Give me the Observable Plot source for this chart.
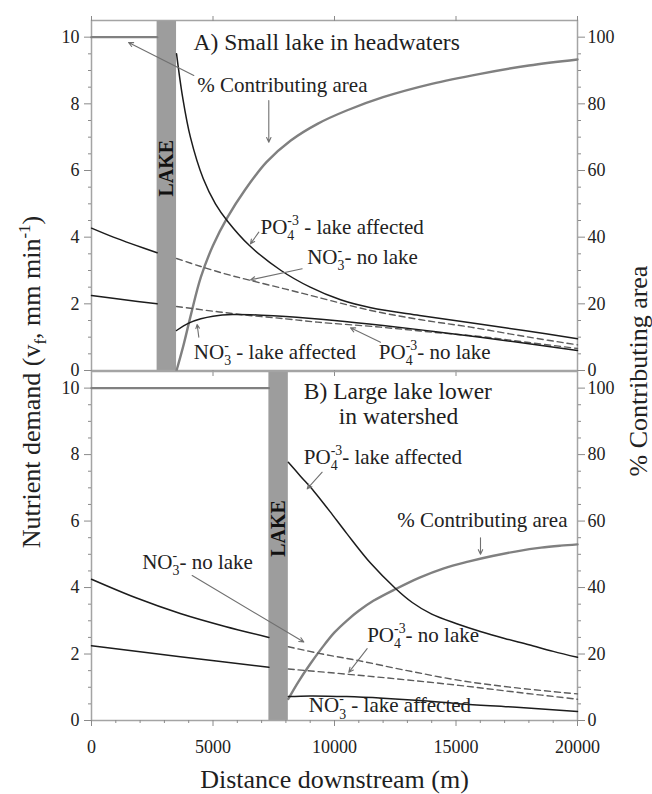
<!DOCTYPE html>
<html>
<head>
<meta charset="utf-8">
<script src="https://cdn.jsdelivr.net/npm/d3@7"></script>
<script src="https://cdn.jsdelivr.net/npm/@observablehq/plot@0.6"></script>
<style>
  body { margin: 0; background: #fff; }
  #wrap { position: relative; width: 652px; height: 794px; font-family: "Liberation Serif", "Times New Roman", serif; color: #222; overflow: hidden; }
  #wrap svg { position: absolute; left: 0; }
  .lab { position: absolute; white-space: nowrap; font-size: 26px; line-height: 1; transform: translate(-50%, -50%) rotate(-90deg); }
  .lab sub, .lab sup { font-size: 65%; line-height: 0; }
</style>
</head>
<body>
<div id="wrap">
  <div class="lab" style="left:32px; top:382px;">Nutrient demand (v<sub>f</sub>, mm min<sup>-1</sup>)</div>
  <div class="lab" style="left:639px; top:371px;">% Contributing area</div>
</div>
<script>
// ---------------- Ticks ----------------
const xMajor = [0, 5000, 10000, 15000, 20000];
const xTickLabels = ["0", "5000", "10000", "15000", "20000"];
const xMinor = [1000, 2000, 3000, 4000, 6000, 7000, 8000, 9000, 11000, 12000, 13000, 14000, 16000, 17000, 18000, 19000];
const yMajor = [0, 2, 4, 6, 8, 10];
const yTickLabels = ["0", "2", "4", "6", "8", "10"];
const pctTickLabels = ["0", "20", "40", "60", "80", "100"];
const yMinor = [0.5, 1, 1.5, 2.5, 3, 3.5, 4.5, 5, 5.5, 6.5, 7, 7.5, 8.5, 9, 9.5];
const pctPerUnit = 10;

// ---------------- Panel A: small lake in headwaters ----------------
const lakeA = [2700, 3500];
const A_no3NoLakeUp_x = [0, 900, 1800, 2700];
const A_no3NoLakeUp_y = [4.27, 4.0, 3.76, 3.53];
const A_po4NoLakeUp_x = [0, 1350, 2700];
const A_po4NoLakeUp_y = [2.25, 2.12, 2.0];
const A_no3NoLake_x = [3500, 4500, 5500, 6500, 8000, 9300, 11500, 13500, 15600, 18000, 20000];
const A_no3NoLake_y = [3.36, 3.12, 2.9, 2.71, 2.44, 2.2, 1.8, 1.53, 1.3, 1.0, 0.77];
const A_po4NoLake_x = [3500, 5000, 6500, 8000, 9300, 11900, 14000, 16000, 18000, 20000];
const A_po4NoLake_y = [1.92, 1.78, 1.65, 1.55, 1.45, 1.3, 1.15, 1.02, 0.84, 0.66];
const A_no3Lake_x = [3500, 4000, 4500, 5000, 5800, 7000, 8000, 10000, 12000, 14000, 16000, 18000, 20000];
const A_no3Lake_y = [1.2, 1.42, 1.55, 1.63, 1.68, 1.66, 1.62, 1.5, 1.35, 1.18, 1.0, 0.8, 0.6];
const A_po4Lake_x = [3500, 3750, 4070, 4600, 5100, 5600, 6500, 7800, 9000, 10250, 11500, 13500, 15600, 17800, 20000];
const A_po4Lake_y = [9.5, 8.2, 7.0, 5.75, 5.0, 4.48, 3.75, 3.0, 2.5, 2.12, 1.88, 1.65, 1.43, 1.2, 0.95];
const A_areaUp_x = [0, 2700];
const A_areaUp_pct = [100, 100];
const A_area_x = [3500, 3800, 4100, 4500, 5000, 5600, 6300, 7200, 8200, 9300, 10500, 12000, 14000, 16000, 18000, 20000];
const A_area_pct = [0, 8, 17, 28, 37.5, 46, 54, 62.5, 69, 74, 78, 82, 86, 89, 91.5, 93.3];

const A_titles = ["A) Small lake in headwaters"];
const A_titles_x = [4200];
const A_titles_y = [9.62];
const A_notes = ["% Contributing area", "PO_{4}^{-3} - lake affected", "NO_{3}^{-}- no lake", "NO_{3}^{-} - lake affected", "PO_{4}^{-3}- no lake"];
const A_notes_x = [4350, 6955, 8876, 4210, 11823];
const A_notes_y = [8.35, 4.1, 3.2, 0.35, 0.36];
const A_arrows = [[4210, 8.85, 1523, 9.84], [7296, 8.1, 7296, 6.85], [6885, 4.15, 6543, 3.8], [8669, 3.05, 6543, 2.72], [4416, 1.0, 4347, 1.38], [11893, 0.85, 10658, 1.28]];
const A_lakeLabel = [3100, 6.07];

// ---------------- Panel B: large lake lower in watershed ----------------
const lakeB = [7300, 8100];
const B_no3NoLakeUp_x = [0, 1800, 3650, 5500, 7300];
const B_no3NoLakeUp_y = [4.25, 3.7, 3.22, 2.83, 2.5];
const B_po4NoLakeUp_x = [0, 3650, 7300];
const B_po4NoLakeUp_y = [2.25, 1.92, 1.6];
const B_no3NoLake_x = [8100, 9500, 11000, 13000, 15200, 17500, 20000];
const B_no3NoLake_y = [2.22, 2.0, 1.8, 1.5, 1.2, 0.98, 0.8];
const B_po4NoLake_x = [8100, 11000, 13000, 15200, 17500, 20000];
const B_po4NoLake_y = [1.55, 1.36, 1.22, 1.05, 0.85, 0.64];
const B_no3Lake_x = [8100, 9000, 10500, 12000, 13500, 15200, 17500, 20000];
const B_no3Lake_y = [0.72, 0.74, 0.72, 0.67, 0.6, 0.5, 0.4, 0.27];
const B_po4Lake_x = [8100, 8600, 9150, 9800, 10500, 11500, 12500, 13200, 14000, 15000, 16000, 17000, 18000, 19000, 20000];
const B_po4Lake_y = [7.77, 7.35, 6.9, 6.3, 5.63, 4.72, 3.98, 3.55, 3.2, 2.92, 2.68, 2.47, 2.28, 2.08, 1.9];
const B_areaUp_x = [0, 7300];
const B_areaUp_pct = [100, 100];
const B_area_x = [8100, 8500, 9000, 9500, 10000, 10500, 11000, 11600, 12500, 13500, 14500, 15500, 16500, 17500, 18500, 19300, 20000];
const B_area_pct = [6.5, 11.5, 17, 22, 26.5, 30, 33, 36, 39.5, 43, 45.8, 47.8, 49.5, 50.9, 52, 52.6, 53];

const B_titles = ["B) Large lake lower", "in watershed"];
const B_titles_x = [8737, 10177];
const B_titles_y = [9.68, 8.92];
const B_notes = ["PO_{4}^{-3}- lake affected", "% Contributing area", "NO_{3}^{-}- no lake", "PO_{4}^{-3}- no lake", "NO_{3}^{-} - lake affected"];
const B_notes_x = [8737, 12580, 2086, 11344, 8943];
const B_notes_y = [7.72, 5.82, 4.56, 2.36, 0.25];
const B_arrows = [[9493, 7.47, 8875, 6.97], [16008, 5.5, 16008, 5.0], [4144, 4.36, 8737, 2.36], [11344, 2.16, 10588, 1.45]];
const B_lakeLabel = [7700, 5.78];

// ---------------- helpers ----------------
const SERIF = "'Liberation Serif', 'Times New Roman', serif";
const DARK = "#1c1c1c", GREYLINE = "#808080", DASH = "#5c5c5c", FRAME = "#a4a4a4", TICK = "#8a8a8a";
const noLabel = () => "";

function rows(id, kind, xs, ys, scale = 1) {
  return xs.map((x, i) => ({id, kind, x, y: ys[i] / scale}));
}
function pts(labels, xs, ys) {
  return labels.map((label, i) => ({label, x: xs[i], y: ys[i]}));
}

function panel(cfg) {
  const lines = [
    ...rows("no3up", "solid", cfg.no3Up[0], cfg.no3Up[1]),
    ...rows("po4up", "solid", cfg.po4Up[0], cfg.po4Up[1]),
    ...rows("no3lake", "solid", cfg.no3Lake[0], cfg.no3Lake[1]),
    ...rows("po4lake", "solid", cfg.po4Lake[0], cfg.po4Lake[1]),
    ...rows("no3nl", "dash", cfg.no3NL[0], cfg.no3NL[1]),
    ...rows("po4nl", "dash", cfg.po4NL[0], cfg.po4NL[1]),
    ...rows("areaUp", "area", cfg.areaUp[0], cfg.areaUp[1], pctPerUnit),
    ...rows("area", "area", cfg.area[0], cfg.area[1], pctPerUnit)
  ];
  const marks = [
    Plot.rect([cfg.lake], {x1: d => d[0], x2: d => d[1], y1: 0, y2: 10.5, fill: "#9d9d9d"}),
    Plot.frame({stroke: FRAME, strokeWidth: 1.5}),
    Plot.axisY({anchor: "left", ticks: yMajor, tickSize: 7, tickPadding: 5, stroke: TICK, label: null,
      tickFormat: d => yTickLabels[yMajor.indexOf(d)]}),
    Plot.axisY({anchor: "left", ticks: yMinor, tickSize: 3, stroke: TICK, tickFormat: noLabel, label: null}),
    Plot.axisY({anchor: "right", ticks: yMajor, tickSize: 7, tickPadding: 3, stroke: TICK, label: null,
      tickFormat: d => pctTickLabels[yMajor.indexOf(d)]}),
    Plot.axisY({anchor: "right", ticks: yMinor, tickSize: 3, stroke: TICK, tickFormat: noLabel, label: null}),
    Plot.line(lines.filter(d => d.kind === "area"), {x: "x", y: "y", z: "id", stroke: GREYLINE, strokeWidth: 2.4, curve: "catmull-rom"}),
    Plot.line(lines.filter(d => d.kind === "dash"), {x: "x", y: "y", z: "id", stroke: DASH, strokeWidth: 1.4, strokeDasharray: "6,4", curve: "catmull-rom"}),
    Plot.line(lines.filter(d => d.kind === "solid"), {x: "x", y: "y", z: "id", stroke: DARK, strokeWidth: 1.5, curve: "catmull-rom"}),
    Plot.arrow(cfg.arrows, {x1: d => d[0], y1: d => d[1], x2: d => d[2], y2: d => d[3], stroke: "#707070", strokeWidth: 1.1, headLength: 7, headAngle: 50}),
    Plot.text(cfg.titles, {x: "x", y: "y", text: "label", textAnchor: "start", lineAnchor: "bottom", fontSize: 23.5, fill: "#1e1e1e"}),
    Plot.text(cfg.notes, {x: "x", y: "y", text: "label", textAnchor: "start", lineAnchor: "bottom", fontSize: 21, fill: "#222"}),
    Plot.text([cfg.lakeLabel], {x: d => d[0], y: d => d[1], text: () => "LAKE", rotate: -90, fontSize: 20, fontWeight: "bold", fill: "#111"})
  ];
  if (cfg.bottom) {
    marks.push(
      Plot.axisX({anchor: "bottom", ticks: xMajor, tickSize: 6, tickPadding: 14, stroke: TICK, label: null,
        tickFormat: d => xTickLabels[xMajor.indexOf(d)]}),
      Plot.axisX({anchor: "bottom", ticks: xMinor, tickSize: 3, stroke: TICK, tickFormat: noLabel, label: null}),
      Plot.text(["Distance downstream (m)"], {frameAnchor: "bottom", dy: 67, text: d => d, fontSize: 26, lineAnchor: "bottom", fill: "#1e1e1e"})
    );
  } else {
    marks.push(
      Plot.axisX({anchor: "bottom", ticks: xMajor, tickSize: 6, stroke: TICK, tickFormat: noLabel, label: null}),
      Plot.axisX({anchor: "top", ticks: xMajor, tickSize: 5, stroke: TICK, tickFormat: noLabel, label: null})
    );
  }
  return Plot.plot({
    width: 652, height: cfg.height,
    marginLeft: 91, marginRight: 75, marginTop: cfg.mt, marginBottom: cfg.mb,
    style: {background: "transparent", fontFamily: SERIF, fontSize: "18px", color: "#222", overflow: "visible"},
    x: {domain: [0, 20000]},
    y: {domain: [0, 10.5]},
    marks
  });
}

function richText(root) {
  root.querySelectorAll("text").forEach(el => {
    const s = el.textContent;
    if (!/[_^]\{/.test(s)) return;
    const fs = parseFloat(getComputedStyle(el).fontSize) || 21;
    const small = fs * 0.66;
    const parts = s.split(/([_^]\{[^}]*\})/).filter(p => p !== "");
    el.textContent = "";
    let shift = 0, subW = 0, supW = 0;
    const w = t => Array.from(t).reduce((a, c) => a + (c === "-" ? 0.333 : 0.5), 0) * small;
    for (const p of parts) {
      const ts = document.createElementNS("http://www.w3.org/2000/svg", "tspan");
      if (p.startsWith("_{")) {
        const t = p.slice(2, -1);
        const target = 0.3 * fs;
        ts.setAttribute("dy", target - shift); shift = target;
        ts.setAttribute("font-size", small);
        ts.textContent = t; subW = w(t); supW = 0;
      } else if (p.startsWith("^{")) {
        const t = p.slice(2, -1);
        const target = -0.42 * fs;
        ts.setAttribute("dy", target - shift); shift = target;
        ts.setAttribute("font-size", small);
        if (subW) ts.setAttribute("dx", -subW);
        supW = w(t);
        ts.textContent = t;
      } else {
        ts.setAttribute("dy", -shift); shift = 0;
        if (subW && supW && subW > supW) ts.setAttribute("dx", subW - supW);
        subW = 0; supW = 0;
        ts.textContent = p;
      }
      el.appendChild(ts);
    }
  });
}

const wrap = document.getElementById("wrap");

const svgA = panel({
  height: 380, mt: 20, mb: 10, bottom: false,
  lake: lakeA,
  no3Up: [A_no3NoLakeUp_x, A_no3NoLakeUp_y],
  po4Up: [A_po4NoLakeUp_x, A_po4NoLakeUp_y],
  no3NL: [A_no3NoLake_x, A_no3NoLake_y],
  po4NL: [A_po4NoLake_x, A_po4NoLake_y],
  no3Lake: [A_no3Lake_x, A_no3Lake_y],
  po4Lake: [A_po4Lake_x, A_po4Lake_y],
  areaUp: [A_areaUp_x, A_areaUp_pct],
  area: [A_area_x, A_area_pct],
  titles: pts(A_titles, A_titles_x, A_titles_y),
  notes: pts(A_notes, A_notes_x, A_notes_y),
  arrows: A_arrows,
  lakeLabel: A_lakeLabel
});
svgA.style.top = "0px";

const svgB = panel({
  height: 433, mt: 10, mb: 74, bottom: true,
  lake: lakeB,
  no3Up: [B_no3NoLakeUp_x, B_no3NoLakeUp_y],
  po4Up: [B_po4NoLakeUp_x, B_po4NoLakeUp_y],
  no3NL: [B_no3NoLake_x, B_no3NoLake_y],
  po4NL: [B_po4NoLake_x, B_po4NoLake_y],
  no3Lake: [B_no3Lake_x, B_no3Lake_y],
  po4Lake: [B_po4Lake_x, B_po4Lake_y],
  areaUp: [B_areaUp_x, B_areaUp_pct],
  area: [B_area_x, B_area_pct],
  titles: pts(B_titles, B_titles_x, B_titles_y),
  notes: pts(B_notes, B_notes_x, B_notes_y),
  arrows: B_arrows,
  lakeLabel: B_lakeLabel
});
svgB.style.top = "361px";

wrap.insertBefore(svgB, wrap.firstChild);
wrap.insertBefore(svgA, wrap.firstChild);
richText(svgA);
richText(svgB);
</script>
</body>
</html>
